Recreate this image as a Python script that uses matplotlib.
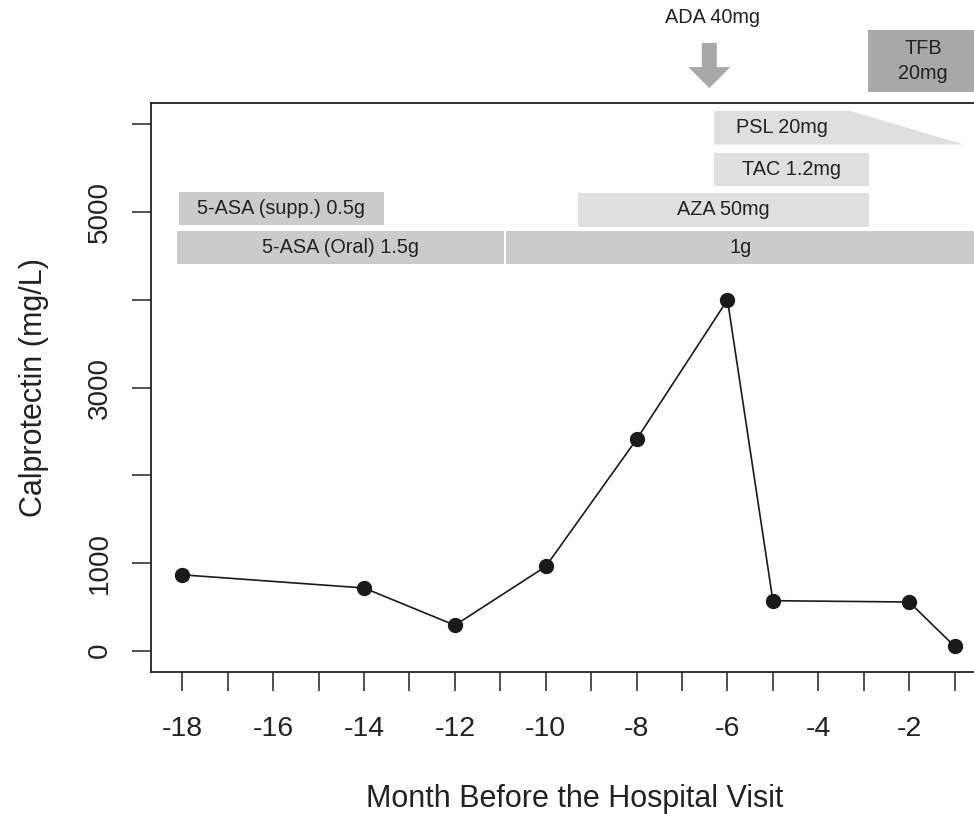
import matplotlib
matplotlib.use("Agg")

import matplotlib.pyplot as plt
from matplotlib.patches import Polygon, Rectangle

plt.rcParams["font.family"] = ["Liberation Sans", "DejaVu Sans"]

# calprotectin measurements
MONTHS = [-18, -14, -12, -10, -8, -6, -5, -2, -1]
CALPROTECTIN = [865, 715, 290, 960, 2410, 4000, 570, 555, 50]

X_TICKS = list(range(-18, 0))
X_TICK_LABELS = [str(m) if m % 2 == 0 else "" for m in X_TICKS]
Y_TICKS = [0, 1000, 2000, 3000, 4000, 5000, 6000]
Y_TICK_LABELS = ["0", "1000", "", "3000", "", "5000", ""]

# treatment periods (month start/end, calprotectin-scale band low/high)
BAR_LABELS = ["5-ASA (supp.) 0.5g", "5-ASA (Oral) 1.5g", "1g", "AZA 50mg", "TAC 1.2mg"]
BAR_START = [-18.08, -18.12, -10.88, -9.30, -6.29]
BAR_END = [-13.56, -10.93, -0.55, -2.89, -2.89]
BAR_LOW = [4855, 4410, 4410, 4835, 5300]
BAR_HIGH = [5235, 4785, 4785, 5220, 5670]
BAR_COLORS = ["#cbcbcb", "#cbcbcb", "#cbcbcb", "#dfdfdf", "#dfdfdf"]

# tapering prednisolone
PSL_LABEL = "PSL 20mg"
PSL_START, PSL_TAPER, PSL_END = -6.29, -3.30, -0.79
PSL_LOW, PSL_HIGH = 5770, 6155

# tofacitinib box above the plot
TFB_LABEL = "TFB\n20mg"
TFB_START, TFB_END = -2.90, -0.49
TFB_LOW, TFB_HIGH = 6365, 7075

# adalimumab arrow
ADA_LABEL = "ADA 40mg"
ADA_MONTH = -6.40
ADA_TOP, ADA_HEAD, ADA_TIP = 6930, 6655, 6415
ADA_TEXT_Y = 7215

TEXT_COLOR = "#222222"


def draw_treatments(ax):
    for label, x0, x1, lo, hi, col in zip(BAR_LABELS, BAR_START, BAR_END, BAR_LOW, BAR_HIGH, BAR_COLORS):
        ax.add_patch(Rectangle((x0, lo), x1 - x0, hi - lo, facecolor=col, edgecolor="none", zorder=1))
        ax.text((x0 + x1) / 2, (lo + hi) / 2, label, ha="center", va="center",
                fontsize=14.3, color=TEXT_COLOR, zorder=2)

    psl = [(PSL_START, PSL_LOW), (PSL_START, PSL_HIGH), (PSL_TAPER, PSL_HIGH), (PSL_END, PSL_LOW)]
    ax.add_patch(Polygon(psl, closed=True, facecolor="#dfdfdf", edgecolor="none", zorder=1))
    ax.text((PSL_START + PSL_TAPER) / 2, (PSL_LOW + PSL_HIGH) / 2, PSL_LABEL, ha="center",
            va="center", fontsize=14.3, color=TEXT_COLOR, zorder=2)

    ax.add_patch(Rectangle((TFB_START, TFB_LOW), TFB_END - TFB_START, TFB_HIGH - TFB_LOW,
                           facecolor="#a8a8a8", edgecolor="none", clip_on=False, zorder=1))
    ax.text((TFB_START + TFB_END) / 2, (TFB_LOW + TFB_HIGH) / 2, TFB_LABEL, ha="center",
            va="center", fontsize=14.3, color=TEXT_COLOR, clip_on=False, linespacing=1.4)

    shaft, head = 0.165, 0.46
    arrow = [
        (ADA_MONTH - shaft, ADA_TOP), (ADA_MONTH + shaft, ADA_TOP),
        (ADA_MONTH + shaft, ADA_HEAD), (ADA_MONTH + head, ADA_HEAD),
        (ADA_MONTH, ADA_TIP), (ADA_MONTH - head, ADA_HEAD),
        (ADA_MONTH - shaft, ADA_HEAD),
    ]
    ax.add_patch(Polygon(arrow, closed=True, facecolor="#a8a8a8", edgecolor="none", clip_on=False))
    ax.text(ADA_MONTH + 0.08, ADA_TEXT_Y, ADA_LABEL, ha="center", va="center",
            fontsize=14.3, color=TEXT_COLOR, clip_on=False)


def main():
    fig = plt.figure(figsize=(9.74, 8.14), dpi=100)
    ax = fig.add_axes([151 / 974, 1 - 672 / 814, 1 - 151 / 974, (672 - 103) / 814])

    ax.set_xlim(-18.69, -0.573)
    ax.set_ylim(-243, 6245)

    draw_treatments(ax)
    ax.plot(MONTHS, CALPROTECTIN, color="#1a1a1a", linewidth=1.2, marker="o",
            markersize=10, zorder=3)

    ax.set_xticks(X_TICKS)
    ax.set_xticklabels(X_TICK_LABELS, fontsize=20.5)
    ax.set_yticks(Y_TICKS)
    ax.set_yticklabels(Y_TICK_LABELS, fontsize=20, rotation=90, va="center")
    ax.tick_params(axis="x", direction="out", length=13.5, width=1.1, pad=18.5, colors="#222222")
    ax.tick_params(axis="y", direction="out", length=13.5, width=1.1, pad=14, colors="#222222")

    for side in ["left", "bottom", "top"]:
        ax.spines[side].set_linewidth(1.3)
        ax.spines[side].set_color("#222222")
    ax.spines["right"].set_visible(False)

    fig.text(575 / 974, 1 - 807 / 814, "Month Before the Hospital Visit", ha="center",
             va="baseline", fontsize=22, color=TEXT_COLOR)
    fig.text(42 / 974, 1 - 387.5 / 814, "Calprotectin (mg/L)", rotation=90,
             rotation_mode="anchor", ha="center", va="baseline", fontsize=22, color=TEXT_COLOR)

    fig.savefig("out.png", dpi=100)
    plt.close(fig)


if __name__ == "__main__":
    main()
